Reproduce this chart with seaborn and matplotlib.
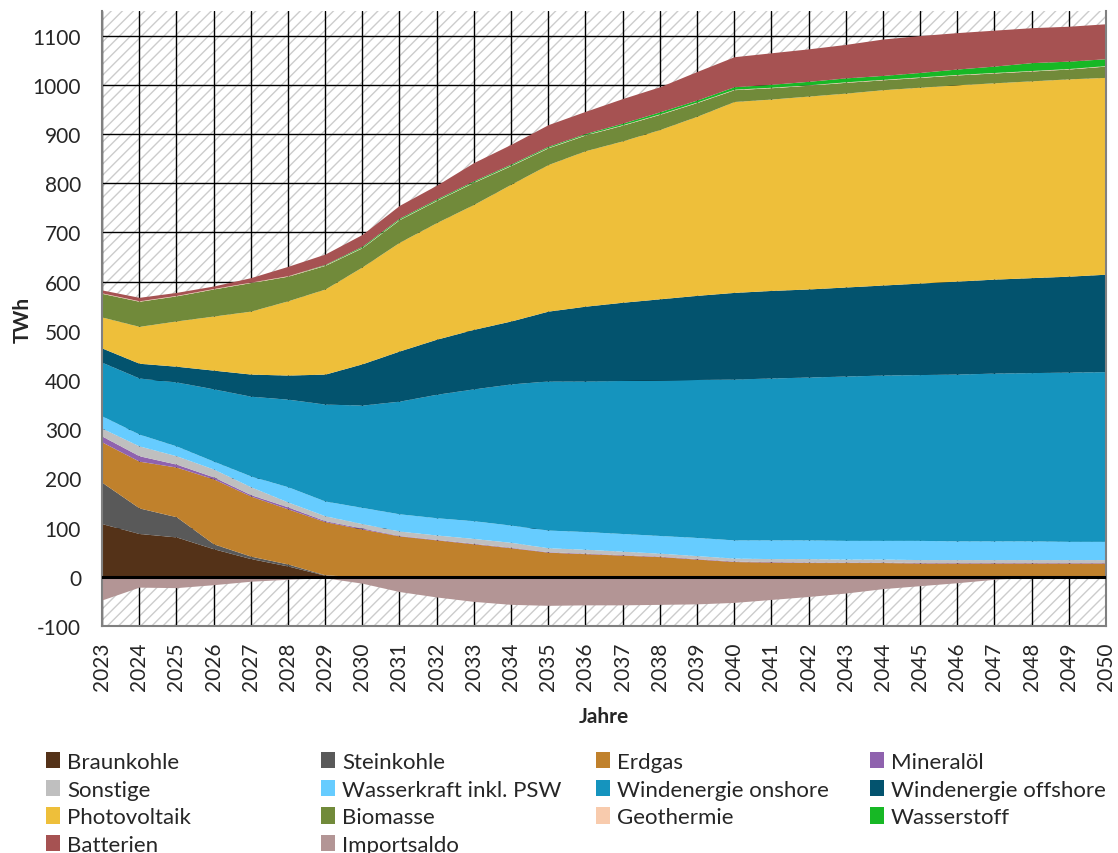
import numpy as np
import matplotlib
matplotlib.use('Agg')
import matplotlib.pyplot as plt
import seaborn as sns
from matplotlib.patches import Rectangle, Patch

# Stromerzeugung nach Energieträgern, TWh
years = [2023, 2024, 2025, 2026, 2027, 2028, 2029, 2030, 2031, 2032, 2033, 2034, 2035, 2036,
         2037, 2038, 2039, 2040, 2041, 2042, 2043, 2044, 2045, 2046, 2047, 2048, 2049, 2050]

braunkohle = [108, 88, 81, 57, 37, 22, 3, 0, 0, 0, 0, 0, 0, 0, 0, 0, 0, 0, 0, 0, 0, 0, 0, 0, 0, 0, 0, 0]
steinkohle = [84, 52, 41, 10, 5, 4, 1, 0, 0, 0, 0, 0, 0, 0, 0, 0, 0, 0, 0, 0, 0, 0, 0, 0, 0, 0, 0, 0]
erdgas = [82, 95, 101, 132, 122, 112, 108, 97, 83, 75, 67, 59, 50, 47, 44, 41, 36, 31, 30, 29, 29, 29, 28, 28, 28, 28, 28, 28]
mineraloel = [12, 11, 6, 4, 3, 4, 2, 2, 1, 1, 1, 1, 1, 1, 1, 1, 1, 1, 1, 1, 1, 1, 1, 1, 1, 1, 1, 1]
sonstige = [16, 20, 17, 16, 16, 10, 10, 9, 9, 9, 10, 10, 8, 8, 7, 6, 6, 6, 6, 7, 6, 6, 6, 6, 6, 6, 6, 6]
wasserkraft = [25, 24, 20, 16, 22, 31, 30, 33, 35, 35, 36, 35, 36, 36, 36, 36, 37, 37, 38, 38, 38, 38, 39, 38, 38, 38, 37, 37]
wind_onshore = [109, 114, 130, 147, 162, 178, 197, 208, 229, 251, 268, 287, 303, 306, 311, 316, 321, 327, 329, 331, 334, 336, 337, 339, 341, 342, 344, 345]
wind_offshore = [29, 30, 32, 38, 45, 49, 61, 84, 102, 112, 121, 128, 142, 152, 159, 165, 171, 176, 178, 179, 181, 183, 186, 189, 191, 193, 195, 198]
photovoltaik = [63, 75, 92, 110, 128, 151, 173, 197, 221, 237, 254, 278, 298, 316, 328, 344, 364, 388, 389, 392, 394, 397, 398, 399, 399, 400, 401, 400]
biomasse = [48, 51, 51, 55, 58, 50, 48, 39, 46, 45, 45, 38, 34, 32, 32, 31, 28, 24, 23, 22, 22, 20, 20, 20, 20, 20, 20, 23]
geothermie = [1, 1, 1, 1, 1, 1, 1, 1, 1, 1, 1, 1, 1, 1, 1, 1, 1, 1, 1, 1, 1, 1, 1, 1, 1, 1, 1, 1]
wasserstoff = [0, 0, 0, 0, 0, 0, 1, 2, 2, 2, 2, 2, 2, 2, 3, 4, 4, 5, 6, 7, 8, 8, 9, 11, 13, 16, 15, 14]
batterien = [6, 7, 6, 5, 9, 19, 21, 24, 26, 28, 37, 40, 44, 45, 50, 51, 58, 61, 64, 66, 68, 74, 75, 74, 73, 71, 71, 71]
importsaldo = [-47, -21, -22, -16, -9, -5, -2, -13, -30, -41, -50, -56, -58, -57, -57, -56, -55, -52, -46, -40,
               -33, -24, -18, -12, -5, -1, 0, 0]

labels = ['Braunkohle', 'Steinkohle', 'Erdgas', 'Mineralöl', 'Sonstige', 'Wasserkraft inkl. PSW',
          'Windenergie onshore', 'Windenergie offshore', 'Photovoltaik', 'Biomasse', 'Geothermie',
          'Wasserstoff', 'Batterien', 'Importsaldo']
colors = ['#543218', '#595959', '#C0812C', '#8F62AE', '#BFBFBF', '#66CCFF', '#1594BE', '#03536E',
          '#EEBF3A', '#718A3A', '#F8CBAD', '#17B825', '#A65252', '#B39595']

sns.set_style('white')
plt.rcParams['font.family'] = ['Lato', 'DejaVu Sans']
plt.rcParams['hatch.linewidth'] = 1.0
plt.rcParams['axes.unicode_minus'] = False
palette = sns.color_palette(colors)

fig = plt.figure(figsize=(11.18, 8.54), dpi=100)
ax = fig.add_axes([0.0912, 0.2658, 0.8981, 0.7202])

# schraffierter Hintergrund
ax.add_patch(Rectangle((0, 0), 1, 1, transform=ax.transAxes, facecolor='white',
                       edgecolor='#cccccc', hatch='///', linewidth=0, zorder=0))

x = np.arange(len(years))
positive = [braunkohle, steinkohle, erdgas, mineraloel, sonstige, wasserkraft, wind_onshore,
            wind_offshore, photovoltaik, biomasse, geothermie, wasserstoff, batterien]
ax.stackplot(x, positive, colors=palette[:13], linewidth=0, zorder=2)
ax.fill_between(x, 0, importsaldo, color=palette[13], linewidth=0, zorder=2)
ax.axhline(0, color='black', lw=2.2, zorder=3)

ax.set_axisbelow(True)
ax.grid(True, color='black', lw=1.0)
ax.set_xlim(0, len(years) - 1)
ax.set_ylim(-100, 1150)
ax.set_xticks(x)
ax.set_xticklabels(years, rotation=90, fontsize=15)
ax.set_yticks(range(-100, 1101, 100))
ax.tick_params(axis='y', labelsize=15, length=0, pad=15)
ax.tick_params(axis='x', length=0, pad=11)

for side in ['left', 'right', 'bottom']:
    ax.spines[side].set_color('#808080')
    ax.spines[side].set_linewidth(1.5)
ax.spines['top'].set_visible(False)

ax.set_ylabel('TWh', fontsize=15, fontweight='bold', labelpad=0)
ax.set_xlabel('Jahre', fontsize=15, fontweight='bold', labelpad=12)

# Legende zeilenweise in 4 Spalten
handles = [Patch(facecolor=c, edgecolor='none') for c in palette]
col_x = [46, 321, 596, 870]
for i, cx in enumerate(col_x):
    idx = list(range(i, len(labels), 4))
    fig.legend([handles[j] for j in idx], [labels[j] for j in idx], loc='upper left',
               bbox_to_anchor=(cx / 1118, 1 - 753 / 854), frameon=False, fontsize=16,
               borderpad=0, borderaxespad=0, handletextpad=0.3, handlelength=0.65,
               handleheight=0.75, labelspacing=0.34)

fig.savefig('out.png', dpi=100)
